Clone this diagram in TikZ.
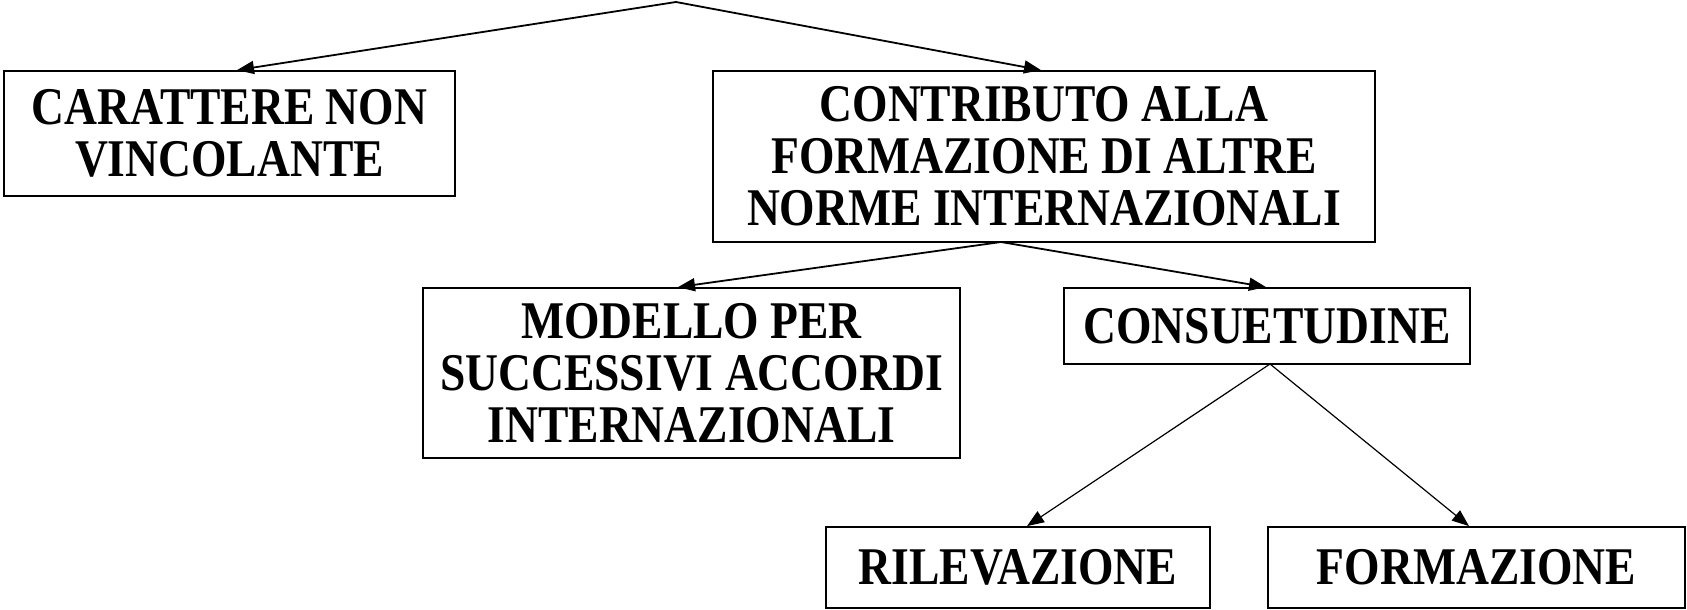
\documentclass[tikz,border=0pt]{standalone}
\usepackage{fontspec}
\setmainfont{Liberation Serif}[FakeStretch=0.86]
\usetikzlibrary{arrows.meta}
\begin{document}
\begin{tikzpicture}[x=1pt,y=-1pt,
  box/.style={draw,line width=1.8pt,rectangle,inner sep=0pt,align=center,
    font=\fontsize{53}{52}\selectfont\bfseries},
  conn/.style={line width=1.8pt,-{Triangle[length=17pt,width=13pt]}},
  thin conn/.style={line width=1.2pt,-{Triangle[length=17pt,width=13pt]}}]
\useasboundingbox[fill=white] (0,0) rectangle (1687,610);
\node[box,minimum width=451pt,minimum height=125pt] (A) at (229.5,133.5) {CARATTERE NON\\VINCOLANTE};
\node[box,minimum width=662pt,minimum height=171pt] (B) at (1044,156.5) {CONTRIBUTO ALLA\\FORMAZIONE DI ALTRE\\NORME INTERNAZIONALI};
\node[box,minimum width=537pt,minimum height=170pt] (C) at (691.5,373) {MODELLO PER\\SUCCESSIVI ACCORDI\\INTERNAZIONALI};
\node[box,minimum width=406pt,minimum height=76pt] (D) at (1267,326) {CONSUETUDINE};
\node[box,minimum width=384pt,minimum height=81pt] (E) at (1018,567.5) {RILEVAZIONE};
\node[box,minimum width=417pt,minimum height=81pt] (F) at (1476.5,567.5) {FORMAZIONE};
\coordinate (top) at (676,2);
\coordinate (Bb) at (1001,242);
\coordinate (Db) at (1270,364);
\draw[conn] (top) -- (A.north -| 237,0);
\draw[conn] (top) -- (B.north -| 1041,0);
\draw[conn] (Bb) -- (C.north -| 678,0);
\draw[conn] (Bb) -- (D.north -| 1266,0);
\draw[thin conn] (Db) -- (E.north -| 1027,0);
\draw[thin conn] (Db) -- (F.north -| 1469,0);
\end{tikzpicture}
\end{document}
